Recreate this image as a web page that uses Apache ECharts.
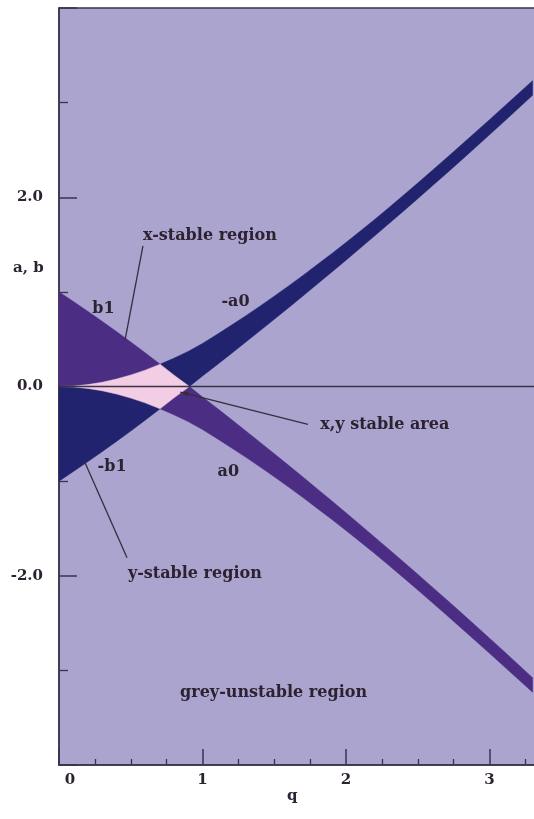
<!DOCTYPE html>
<html>
<head>
<meta charset="utf-8">
<script src="https://cdn.jsdelivr.net/npm/echarts@6/dist/echarts.min.js"></script>
<style>
  html, body { margin: 0; padding: 0; background: #ffffff; }
  #chart { width: 534px; height: 819px; }
</style>
</head>
<body>
<div id="chart"></div>
<script>
// Mathieu characteristic curves bounding the first stability band
const qValues = [
  0, 0.1, 0.2, 0.3, 0.4, 0.5, 0.6, 0.7, 0.8, 0.9,
  1.0, 1.1, 1.2, 1.3, 1.4, 1.5, 1.6, 1.7, 1.8, 1.9,
  2.0, 2.1, 2.2, 2.3, 2.4, 2.5, 2.6, 2.7, 2.8, 2.9,
  3.0, 3.1, 3.2, 3.3
];
const a0Values = [
  0, -0.005, -0.020, -0.045, -0.079, -0.122, -0.173, -0.233, -0.298, -0.371,
  -0.455, -0.549, -0.646, -0.746, -0.849, -0.955, -1.063, -1.174, -1.288, -1.404,
  -1.522, -1.643, -1.766, -1.892, -2.020, -2.150, -2.282, -2.415, -2.549, -2.684,
  -2.820, -2.957, -3.094, -3.231
];
const b1Values = [
  1.0, 0.899, 0.795, 0.689, 0.581, 0.471, 0.357, 0.241, 0.122, 0.010,
  -0.110, -0.228, -0.347, -0.467, -0.588, -0.710, -0.833, -0.957, -1.082, -1.208,
  -1.335, -1.463, -1.592, -1.722, -1.853, -1.985, -2.118, -2.252, -2.387, -2.523,
  -2.660, -2.798, -2.937, -3.077
];

// axis ticks
const qTicks = [0, 1, 2, 3];
const abTicks = [-2, 0, 2];

const INK = '#2c2230';
const FONT_FAMILY = '"DejaVu Serif", "Liberation Serif", serif';
const COLORS = {
  plot: '#aaa4cf',
  xStable: '#4b2d84',
  yStable: '#22236f',
  both: '#f2cde3'
};

// mirrored curves for the y direction
const minusA0 = a0Values.map(v => -v);
const minusB1 = b1Values.map(v => -v);

// band between an upper and a lower curve
function bandPoints(upper, lower) {
  const top = qValues.map((q, i) => [q, upper[i]]);
  const bottom = qValues.map((q, i) => [q, lower[i]]).reverse();
  return top.concat(bottom);
}

// linear value of a tabulated curve at q
function valueAt(curve, q) {
  for (let i = 0; i < qValues.length - 1; i++) {
    const q0 = qValues[i], q1 = qValues[i + 1];
    if (q >= q0 && q <= q1) {
      const t = (q - q0) / (q1 - q0);
      return curve[i] + t * (curve[i + 1] - curve[i]);
    }
  }
  return curve[curve.length - 1];
}

// common part of both bands: between max(a0,-b1) and min(b1,-a0)
function overlapPoints() {
  const breaks = qValues.slice();
  for (let i = 0; i < qValues.length - 1; i++) {
    const d0 = b1Values[i] + a0Values[i];
    const d1 = b1Values[i + 1] + a0Values[i + 1];
    if (d0 * d1 < 0) {
      breaks.push(qValues[i] + (qValues[i + 1] - qValues[i]) * d0 / (d0 - d1));
    }
  }
  breaks.sort((a, b) => a - b);
  const upperAt = q => Math.min(valueAt(b1Values, q), -valueAt(a0Values, q));
  const lowerAt = q => Math.max(valueAt(a0Values, q), -valueAt(b1Values, q));
  const top = [], bottom = [];
  for (let i = 0; i < breaks.length; i++) {
    const q = breaks[i];
    const w = upperAt(q) - lowerAt(q);
    if (i > 0 && w <= 0) {
      const qp = breaks[i - 1];
      const wp = upperAt(qp) - lowerAt(qp);
      const qe = qp + (q - qp) * wp / (wp - w);
      top.push([qe, upperAt(qe)]);
      break;
    }
    top.push([q, upperAt(q)]);
    bottom.push([q, lowerAt(q)]);
  }
  return top.concat(bottom.reverse());
}

function polygonRenderer(points, color) {
  return function (params, api) {
    return {
      type: 'polygon',
      shape: { points: points.map(p => api.coord(p)) },
      style: { fill: color, stroke: color, lineWidth: 0.5 }
    };
  };
}

const chart = echarts.init(document.getElementById('chart'), null, { renderer: 'canvas' });

const labelStyle = {
  color: INK,
  fontFamily: FONT_FAMILY,
  fontWeight: 'bold',
  fontSize: 15
};

chart.setOption({
  backgroundColor: '#ffffff',
  animation: false,
  grid: {
    left: 59,
    top: 8,
    width: 574,
    bottom: 54,
    outerBoundsMode: 'none',
    containLabel: false,
    show: true,
    backgroundColor: COLORS.plot,
    borderColor: '#3a3348',
    borderWidth: 1.5
  },
  xAxis: {
    type: 'value',
    min: 0,
    max: 4,
    interval: 1,
    axisLine: { show: true, onZero: false, lineStyle: { color: '#3a3348', width: 1.5 } },
    axisTick: { show: true, inside: true, length: 16, lineStyle: { color: '#3a3348', width: 1.5 } },
    minorTick: { show: true, splitNumber: 4, length: 6, lineStyle: { color: '#3a3348', width: 1.3 } },
    splitLine: { show: false },
    axisLabel: Object.assign({}, labelStyle, {
      margin: 8,
      formatter: v => {
        if (!qTicks.includes(v)) return '';
        return v === 0 ? '{z|0}' : String(v);
      },
      rich: {
        z: Object.assign({}, labelStyle, { padding: [0, 0, 0, 22] })
      }
    })
  },
  yAxis: {
    type: 'value',
    min: -4,
    max: 4,
    interval: 2,
    axisLine: { show: true, onZero: false, lineStyle: { color: '#3a3348', width: 1.5 } },
    axisTick: { show: true, inside: true, length: 18, lineStyle: { color: '#3a3348', width: 1.5 } },
    minorTick: { show: true, splitNumber: 2, length: 9, lineStyle: { color: '#3a3348', width: 1.3 } },
    splitLine: { show: false },
    axisLabel: Object.assign({}, labelStyle, {
      margin: 16,
      formatter: v => abTicks.includes(v) ? v.toFixed(1) : ''
    })
  },
  series: [
    {
      name: 'x-stable',
      type: 'custom',
      silent: true,
      z: 2,
      data: [[0, 0]],
      renderItem: polygonRenderer(bandPoints(b1Values, a0Values), COLORS.xStable)
    },
    {
      name: 'y-stable',
      type: 'custom',
      silent: true,
      z: 3,
      data: [[0, 0]],
      renderItem: polygonRenderer(bandPoints(minusA0, minusB1), COLORS.yStable)
    },
    {
      name: 'x,y stable',
      type: 'custom',
      silent: true,
      z: 4,
      data: [[0, 0]],
      renderItem: polygonRenderer(overlapPoints(), COLORS.both)
    },
    {
      name: 'zero',
      type: 'line',
      silent: true,
      z: 5,
      showSymbol: false,
      data: [[0, 0], [4, 0]],
      lineStyle: { color: '#3b3343', width: 1.5 }
    }
  ]
});

// annotations placed in (q, a) coordinates
const notes = [
  { text: 'x-stable region', at: [0.585, 1.59], align: 'left' },
  { text: 'b1', at: [0.31, 0.82], align: 'center' },
  { text: '-a0', at: [1.23, 0.89], align: 'center' },
  { text: 'x,y stable area', at: [1.82, -0.41], align: 'left' },
  { text: '-b1', at: [0.37, -0.85], align: 'center' },
  { text: 'a0', at: [1.18, -0.90], align: 'center' },
  { text: 'y-stable region', at: [0.48, -1.975], align: 'left' },
  { text: 'grey-unstable region', at: [1.495, -3.24], align: 'center' }
];
const leaders = [
  { from: [0.585, 1.485], to: [0.46, 0.49] },
  { from: [1.735, -0.40], to: [0.845, -0.06], arrow: true },
  { from: [0.474, -1.81], to: [0.18, -0.80] }
];

const toPx = p => chart.convertToPixel({ gridIndex: 0 }, p);
const font = 'bold 16px ' + FONT_FAMILY;
const elements = [];

notes.forEach(n => {
  const [x, y] = toPx(n.at);
  elements.push({
    type: 'text', x: x, y: y, z: 20, silent: true,
    style: { text: n.text, fill: INK, font: font, align: n.align, verticalAlign: 'middle' }
  });
});

leaders.forEach(l => {
  const [x1, y1] = toPx(l.from);
  const [x2, y2] = toPx(l.to);
  elements.push({
    type: 'line', z: 20, silent: true,
    shape: { x1: x1, y1: y1, x2: x2, y2: y2 },
    style: { stroke: '#3a2c3c', lineWidth: 1.3 }
  });
  if (l.arrow) {
    const ang = Math.atan2(y2 - y1, x2 - x1);
    const len = 8, half = 2.5;
    const bx = x2 - len * Math.cos(ang), by = y2 - len * Math.sin(ang);
    elements.push({
      type: 'polygon', z: 20, silent: true,
      shape: { points: [
        [x2, y2],
        [bx - half * Math.sin(ang), by + half * Math.cos(ang)],
        [bx + half * Math.sin(ang), by - half * Math.cos(ang)]
      ] },
      style: { fill: '#3a2c3c' }
    });
  }
});

// axis names
elements.push({
  type: 'text', left: 13, top: 261, z: 20, silent: true,
  style: { text: 'a, b', fill: INK, font: 'bold 15px ' + FONT_FAMILY }
});
elements.push({
  type: 'text', left: 287, top: 789, z: 20, silent: true,
  style: { text: 'q', fill: INK, font: 'bold 15px ' + FONT_FAMILY }
});

chart.setOption({ graphic: { elements: elements } });
</script>
</body>
</html>
